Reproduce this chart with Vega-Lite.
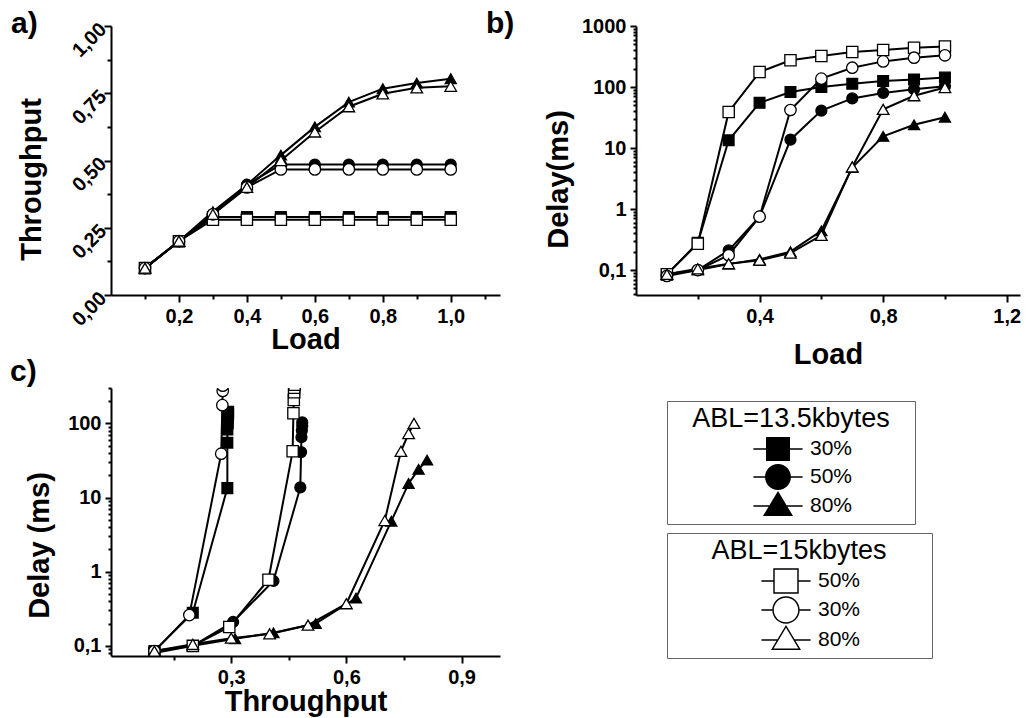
{
  "$schema": "https://vega.github.io/schema/vega-lite/v6.json",
  "background": "white",
  "padding": {"left": 10, "top": 8, "right": 5, "bottom": 5},
  "columns": 2,
  "bounds": "flush",
  "spacing": {"row": 93, "column": 136},
  "datasets": {
    "a": [
      {"series": "13.5k 30%", "load": 0.1, "thr": 0.1}, {"series": "13.5k 30%", "load": 0.2, "thr": 0.2}, {"series": "13.5k 30%", "load": 0.3, "thr": 0.29}, {"series": "13.5k 30%", "load": 0.4, "thr": 0.29}, {"series": "13.5k 30%", "load": 0.5, "thr": 0.29}, {"series": "13.5k 30%", "load": 0.6, "thr": 0.29}, {"series": "13.5k 30%", "load": 0.7, "thr": 0.29}, {"series": "13.5k 30%", "load": 0.8, "thr": 0.29}, {"series": "13.5k 30%", "load": 0.9, "thr": 0.29}, {"series": "13.5k 30%", "load": 1.0, "thr": 0.29},
      {"series": "13.5k 50%", "load": 0.1, "thr": 0.1}, {"series": "13.5k 50%", "load": 0.2, "thr": 0.2}, {"series": "13.5k 50%", "load": 0.3, "thr": 0.3}, {"series": "13.5k 50%", "load": 0.4, "thr": 0.41}, {"series": "13.5k 50%", "load": 0.5, "thr": 0.485}, {"series": "13.5k 50%", "load": 0.6, "thr": 0.485}, {"series": "13.5k 50%", "load": 0.7, "thr": 0.485}, {"series": "13.5k 50%", "load": 0.8, "thr": 0.485}, {"series": "13.5k 50%", "load": 0.9, "thr": 0.485}, {"series": "13.5k 50%", "load": 1.0, "thr": 0.485},
      {"series": "13.5k 80%", "load": 0.1, "thr": 0.1}, {"series": "13.5k 80%", "load": 0.2, "thr": 0.2}, {"series": "13.5k 80%", "load": 0.3, "thr": 0.31}, {"series": "13.5k 80%", "load": 0.4, "thr": 0.41}, {"series": "13.5k 80%", "load": 0.5, "thr": 0.52}, {"series": "13.5k 80%", "load": 0.6, "thr": 0.625}, {"series": "13.5k 80%", "load": 0.7, "thr": 0.717}, {"series": "13.5k 80%", "load": 0.8, "thr": 0.767}, {"series": "13.5k 80%", "load": 0.9, "thr": 0.788}, {"series": "13.5k 80%", "load": 1.0, "thr": 0.804},
      {"series": "15k 50%", "load": 0.1, "thr": 0.1}, {"series": "15k 50%", "load": 0.2, "thr": 0.2}, {"series": "15k 50%", "load": 0.3, "thr": 0.28}, {"series": "15k 50%", "load": 0.4, "thr": 0.28}, {"series": "15k 50%", "load": 0.5, "thr": 0.28}, {"series": "15k 50%", "load": 0.6, "thr": 0.28}, {"series": "15k 50%", "load": 0.7, "thr": 0.28}, {"series": "15k 50%", "load": 0.8, "thr": 0.28}, {"series": "15k 50%", "load": 0.9, "thr": 0.28}, {"series": "15k 50%", "load": 1.0, "thr": 0.28},
      {"series": "15k 30%", "load": 0.1, "thr": 0.1}, {"series": "15k 30%", "load": 0.2, "thr": 0.2}, {"series": "15k 30%", "load": 0.3, "thr": 0.3}, {"series": "15k 30%", "load": 0.4, "thr": 0.4}, {"series": "15k 30%", "load": 0.5, "thr": 0.467}, {"series": "15k 30%", "load": 0.6, "thr": 0.467}, {"series": "15k 30%", "load": 0.7, "thr": 0.467}, {"series": "15k 30%", "load": 0.8, "thr": 0.467}, {"series": "15k 30%", "load": 0.9, "thr": 0.467}, {"series": "15k 30%", "load": 1.0, "thr": 0.467},
      {"series": "15k 80%", "load": 0.1, "thr": 0.1}, {"series": "15k 80%", "load": 0.2, "thr": 0.2}, {"series": "15k 80%", "load": 0.3, "thr": 0.3}, {"series": "15k 80%", "load": 0.4, "thr": 0.4}, {"series": "15k 80%", "load": 0.5, "thr": 0.5}, {"series": "15k 80%", "load": 0.6, "thr": 0.606}, {"series": "15k 80%", "load": 0.7, "thr": 0.7}, {"series": "15k 80%", "load": 0.8, "thr": 0.748}, {"series": "15k 80%", "load": 0.9, "thr": 0.77}, {"series": "15k 80%", "load": 1.0, "thr": 0.776}
    ],
    "b": [
      {"series": "13.5k 30%", "load": 0.1, "delay": 0.085}, {"series": "13.5k 30%", "load": 0.2, "delay": 0.28}, {"series": "13.5k 30%", "load": 0.3, "delay": 13.4}, {"series": "13.5k 30%", "load": 0.4, "delay": 55}, {"series": "13.5k 30%", "load": 0.5, "delay": 83}, {"series": "13.5k 30%", "load": 0.6, "delay": 100}, {"series": "13.5k 30%", "load": 0.7, "delay": 113}, {"series": "13.5k 30%", "load": 0.8, "delay": 126}, {"series": "13.5k 30%", "load": 0.9, "delay": 133}, {"series": "13.5k 30%", "load": 1.0, "delay": 143},
      {"series": "13.5k 50%", "load": 0.1, "delay": 0.085}, {"series": "13.5k 50%", "load": 0.2, "delay": 0.1}, {"series": "13.5k 50%", "load": 0.3, "delay": 0.21}, {"series": "13.5k 50%", "load": 0.4, "delay": 0.75}, {"series": "13.5k 50%", "load": 0.5, "delay": 13.7}, {"series": "13.5k 50%", "load": 0.6, "delay": 41}, {"series": "13.5k 50%", "load": 0.7, "delay": 65}, {"series": "13.5k 50%", "load": 0.8, "delay": 80}, {"series": "13.5k 50%", "load": 0.9, "delay": 92}, {"series": "13.5k 50%", "load": 1.0, "delay": 103},
      {"series": "13.5k 80%", "load": 0.1, "delay": 0.085}, {"series": "13.5k 80%", "load": 0.2, "delay": 0.1}, {"series": "13.5k 80%", "load": 0.3, "delay": 0.125}, {"series": "13.5k 80%", "load": 0.4, "delay": 0.15}, {"series": "13.5k 80%", "load": 0.5, "delay": 0.2}, {"series": "13.5k 80%", "load": 0.6, "delay": 0.44}, {"series": "13.5k 80%", "load": 0.7, "delay": 4.8}, {"series": "13.5k 80%", "load": 0.8, "delay": 15.5}, {"series": "13.5k 80%", "load": 0.9, "delay": 24}, {"series": "13.5k 80%", "load": 1.0, "delay": 32},
      {"series": "15k 50%", "load": 0.1, "delay": 0.085}, {"series": "15k 50%", "load": 0.2, "delay": 0.27}, {"series": "15k 50%", "load": 0.3, "delay": 39}, {"series": "15k 50%", "load": 0.4, "delay": 176}, {"series": "15k 50%", "load": 0.5, "delay": 274}, {"series": "15k 50%", "load": 0.6, "delay": 322}, {"series": "15k 50%", "load": 0.7, "delay": 375}, {"series": "15k 50%", "load": 0.8, "delay": 405}, {"series": "15k 50%", "load": 0.9, "delay": 441}, {"series": "15k 50%", "load": 1.0, "delay": 460},
      {"series": "15k 30%", "load": 0.1, "delay": 0.08}, {"series": "15k 30%", "load": 0.2, "delay": 0.1}, {"series": "15k 30%", "load": 0.3, "delay": 0.175}, {"series": "15k 30%", "load": 0.4, "delay": 0.75}, {"series": "15k 30%", "load": 0.5, "delay": 42}, {"series": "15k 30%", "load": 0.6, "delay": 137}, {"series": "15k 30%", "load": 0.7, "delay": 207}, {"series": "15k 30%", "load": 0.8, "delay": 263}, {"series": "15k 30%", "load": 0.9, "delay": 302}, {"series": "15k 30%", "load": 1.0, "delay": 331},
      {"series": "15k 80%", "load": 0.1, "delay": 0.085}, {"series": "15k 80%", "load": 0.2, "delay": 0.105}, {"series": "15k 80%", "load": 0.3, "delay": 0.127}, {"series": "15k 80%", "load": 0.4, "delay": 0.145}, {"series": "15k 80%", "load": 0.5, "delay": 0.19}, {"series": "15k 80%", "load": 0.6, "delay": 0.37}, {"series": "15k 80%", "load": 0.7, "delay": 4.9}, {"series": "15k 80%", "load": 0.8, "delay": 43}, {"series": "15k 80%", "load": 0.9, "delay": 72}, {"series": "15k 80%", "load": 1.0, "delay": 98}
    ],
    "c": [
      {"series": "13.5k 30%", "load": 0.1, "thr": 0.1, "delay": 0.085}, {"series": "13.5k 30%", "load": 0.2, "thr": 0.2, "delay": 0.28}, {"series": "13.5k 30%", "load": 0.3, "thr": 0.29, "delay": 13.4}, {"series": "13.5k 30%", "load": 0.4, "thr": 0.29, "delay": 55}, {"series": "13.5k 30%", "load": 0.5, "thr": 0.29, "delay": 83}, {"series": "13.5k 30%", "load": 0.6, "thr": 0.291, "delay": 100}, {"series": "13.5k 30%", "load": 0.7, "thr": 0.291, "delay": 113}, {"series": "13.5k 30%", "load": 0.8, "thr": 0.291, "delay": 126}, {"series": "13.5k 30%", "load": 0.9, "thr": 0.292, "delay": 133}, {"series": "13.5k 30%", "load": 1.0, "thr": 0.292, "delay": 143},
      {"series": "13.5k 50%", "load": 0.1, "thr": 0.1, "delay": 0.085}, {"series": "13.5k 50%", "load": 0.2, "thr": 0.2, "delay": 0.1}, {"series": "13.5k 50%", "load": 0.3, "thr": 0.305, "delay": 0.21}, {"series": "13.5k 50%", "load": 0.4, "thr": 0.41, "delay": 0.75}, {"series": "13.5k 50%", "load": 0.5, "thr": 0.48, "delay": 13.7}, {"series": "13.5k 50%", "load": 0.6, "thr": 0.482, "delay": 41}, {"series": "13.5k 50%", "load": 0.7, "thr": 0.483, "delay": 65}, {"series": "13.5k 50%", "load": 0.8, "thr": 0.484, "delay": 80}, {"series": "13.5k 50%", "load": 0.9, "thr": 0.485, "delay": 92}, {"series": "13.5k 50%", "load": 1.0, "thr": 0.485, "delay": 103},
      {"series": "13.5k 80%", "load": 0.1, "thr": 0.1, "delay": 0.085}, {"series": "13.5k 80%", "load": 0.2, "thr": 0.2, "delay": 0.1}, {"series": "13.5k 80%", "load": 0.3, "thr": 0.31, "delay": 0.125}, {"series": "13.5k 80%", "load": 0.4, "thr": 0.41, "delay": 0.15}, {"series": "13.5k 80%", "load": 0.5, "thr": 0.52, "delay": 0.2}, {"series": "13.5k 80%", "load": 0.6, "thr": 0.625, "delay": 0.44}, {"series": "13.5k 80%", "load": 0.7, "thr": 0.717, "delay": 4.8}, {"series": "13.5k 80%", "load": 0.8, "thr": 0.762, "delay": 15.5}, {"series": "13.5k 80%", "load": 0.9, "thr": 0.788, "delay": 24}, {"series": "13.5k 80%", "load": 1.0, "thr": 0.81, "delay": 32},
      {"series": "15k 50%", "load": 0.1, "thr": 0.1, "delay": 0.08}, {"series": "15k 50%", "load": 0.2, "thr": 0.2, "delay": 0.1}, {"series": "15k 50%", "load": 0.3, "thr": 0.295, "delay": 0.18}, {"series": "15k 50%", "load": 0.4, "thr": 0.397, "delay": 0.78}, {"series": "15k 50%", "load": 0.5, "thr": 0.46, "delay": 42}, {"series": "15k 50%", "load": 0.6, "thr": 0.462, "delay": 137}, {"series": "15k 50%", "load": 0.7, "thr": 0.463, "delay": 207}, {"series": "15k 50%", "load": 0.8, "thr": 0.464, "delay": 263}, {"series": "15k 50%", "load": 0.9, "thr": 0.464, "delay": 302}, {"series": "15k 50%", "load": 1.0, "thr": 0.465, "delay": 331},
      {"series": "15k 30%", "load": 0.1, "thr": 0.1, "delay": 0.085}, {"series": "15k 30%", "load": 0.2, "thr": 0.191, "delay": 0.26}, {"series": "15k 30%", "load": 0.3, "thr": 0.274, "delay": 39}, {"series": "15k 30%", "load": 0.4, "thr": 0.277, "delay": 176}, {"series": "15k 30%", "load": 0.5, "thr": 0.278, "delay": 274}, {"series": "15k 30%", "load": 0.6, "thr": 0.278, "delay": 322}, {"series": "15k 30%", "load": 0.7, "thr": 0.278, "delay": 375}, {"series": "15k 30%", "load": 0.8, "thr": 0.278, "delay": 405}, {"series": "15k 30%", "load": 0.9, "thr": 0.278, "delay": 441}, {"series": "15k 30%", "load": 1.0, "thr": 0.278, "delay": 460},
      {"series": "15k 80%", "load": 0.1, "thr": 0.1, "delay": 0.085}, {"series": "15k 80%", "load": 0.2, "thr": 0.2, "delay": 0.105}, {"series": "15k 80%", "load": 0.3, "thr": 0.3, "delay": 0.127}, {"series": "15k 80%", "load": 0.4, "thr": 0.4, "delay": 0.145}, {"series": "15k 80%", "load": 0.5, "thr": 0.5, "delay": 0.19}, {"series": "15k 80%", "load": 0.6, "thr": 0.6, "delay": 0.37}, {"series": "15k 80%", "load": 0.7, "thr": 0.7, "delay": 4.9}, {"series": "15k 80%", "load": 0.8, "thr": 0.742, "delay": 42}, {"series": "15k 80%", "load": 0.9, "thr": 0.762, "delay": 73}, {"series": "15k 80%", "load": 1.0, "thr": 0.776, "delay": 100}
    ]
  },
  "concat": [
    {
      "width": 389, "height": 269,
      "title": {"text": "a)", "anchor": "start", "frame": "group", "orient": "top", "offset": 0, "baseline": "alphabetic", "dx": -100, "dy": 44, "fontSize": 30, "fontWeight": "bold", "font": "Liberation Sans", "color": "black"},
      "data": {"name": "a"},
      "encoding": {
        "x": {"field": "load", "type": "quantitative",
          "scale": {"domain": [0, 1.145], "nice": false, "zero": false},
          "axis": {"title": "Load", "values": [0.1, 0.2, 0.3, 0.4, 0.5, 0.6, 0.7, 0.8, 0.9, 1.0, 1.1],
            "labelExpr": "round(datum.value*10)%2==0 ? replace(format(datum.value,'.1f'),'.',',') : ''",
            "tickSize": {"condition": {"test": "round(datum.value*10)%2==0", "value": 7}, "value": 4},
            "labelPadding": 4, "titlePadding": -1}},
        "y": {"field": "thr", "type": "quantitative",
          "scale": {"domain": [0, 1], "nice": false, "zero": false},
          "axis": {"title": "Throughput", "values": [0, 0.125, 0.25, 0.375, 0.5, 0.625, 0.75, 0.875, 1.0],
            "labelExpr": "round(datum.value*8)%2==0 ? replace(format(datum.value,'.2f'),'.',',') : ''",
            "tickSize": {"condition": {"test": "round(datum.value*8)%2==0", "value": 7}, "value": 4},
            "labelAngle": -45, "labelAlign": "right", "labelBaseline": "middle", "labelPadding": 1,
            "titleX": -65, "titleY": 153, "titleAngle": -90, "titleAlign": "center", "titleBaseline": "bottom"}}
      },
      "layer": [
        {"mark": {"type": "line", "color": "black", "strokeWidth": 2}, "encoding": {"detail": {"field": "series", "type": "nominal"}}},
        {"mark": {"type": "point", "filled": true, "stroke": "black", "strokeWidth": 1.3, "opacity": 1},
          "encoding": {
            "shape": {"field": "series", "type": "nominal", "legend": null, "scale": {"domain": ["13.5k 30%", "13.5k 50%", "13.5k 80%", "15k 50%", "15k 30%", "15k 80%"], "range": ["square", "circle", "triangle-up", "square", "circle", "triangle-up"]}},
            "fill": {"field": "series", "type": "nominal", "legend": null, "scale": {"domain": ["13.5k 30%", "13.5k 50%", "13.5k 80%", "15k 50%", "15k 30%", "15k 80%"], "range": ["black", "black", "black", "white", "white", "white"]}},
            "size": {"field": "series", "type": "nominal", "legend": null, "scale": {"domain": ["13.5k 30%", "13.5k 50%", "13.5k 80%", "15k 50%", "15k 30%", "15k 80%"], "range": [115, 135, 210, 115, 135, 210]}}
          }}
      ]
    },
    {
      "width": 384, "height": 269,
      "title": {"text": "b)", "anchor": "start", "frame": "group", "orient": "top", "offset": 0, "baseline": "alphabetic", "dx": -150, "dy": 47, "fontSize": 30, "fontWeight": "bold", "font": "Liberation Sans", "color": "black"},
      "data": {"name": "b"},
      "encoding": {
        "x": {"field": "load", "type": "quantitative",
          "scale": {"domain": [0, 1.243], "nice": false, "zero": false},
          "axis": {"title": "Load", "values": [0.2, 0.4, 0.6, 0.8, 1.0, 1.2],
            "labelExpr": "round(datum.value*10)%4==0 ? replace(format(datum.value,'.1f'),'.',',') : ''",
            "tickSize": {"condition": {"test": "round(datum.value*10)%4==0", "value": 7}, "value": 4},
            "labelPadding": 4, "titlePadding": 14}},
        "y": {"field": "delay", "type": "quantitative",
          "scale": {"type": "log", "domain": [0.039, 1000], "nice": false, "zero": false},
          "axis": {"title": "Delay(ms)",
            "values": [0.04, 0.05, 0.06, 0.07, 0.08, 0.09, 0.1, 0.2, 0.3, 0.4, 0.5, 0.6, 0.7, 0.8, 0.9, 1, 2, 3, 4, 5, 6, 7, 8, 9, 10, 20, 30, 40, 50, 60, 70, 80, 90, 100, 200, 300, 400, 500, 600, 700, 800, 900, 1000],
            "labelExpr": "datum.value==0.1 ? '0,1' : (datum.value==1 || datum.value==10 || datum.value==100 || datum.value==1000) ? format(datum.value,'d') : ''",
            "tickSize": {"condition": {"test": "datum.value==0.1 || datum.value==1 || datum.value==10 || datum.value==100 || datum.value==1000", "value": 6}, "value": 3},
            "labelPadding": 4,
            "titleX": -63, "titleY": 153, "titleAngle": -90, "titleAlign": "center", "titleBaseline": "bottom"}}
      },
      "layer": [
        {"mark": {"type": "line", "color": "black", "strokeWidth": 2}, "encoding": {"detail": {"field": "series", "type": "nominal"}}},
        {"mark": {"type": "point", "filled": true, "stroke": "black", "strokeWidth": 1.3, "opacity": 1},
          "encoding": {
            "shape": {"field": "series", "type": "nominal", "legend": null, "scale": {"domain": ["13.5k 30%", "13.5k 50%", "13.5k 80%", "15k 50%", "15k 30%", "15k 80%"], "range": ["square", "circle", "triangle-up", "square", "circle", "triangle-up"]}},
            "fill": {"field": "series", "type": "nominal", "legend": null, "scale": {"domain": ["13.5k 30%", "13.5k 50%", "13.5k 80%", "15k 50%", "15k 30%", "15k 80%"], "range": ["black", "black", "black", "white", "white", "white"]}},
            "size": {"field": "series", "type": "nominal", "legend": null, "scale": {"domain": ["13.5k 30%", "13.5k 50%", "13.5k 80%", "15k 50%", "15k 30%", "15k 80%"], "range": [115, 135, 210, 115, 135, 210]}}
          }}
      ]
    },
    {
      "width": 389, "height": 268,
      "title": {"text": "c)", "anchor": "start", "frame": "group", "orient": "top", "offset": 0, "baseline": "alphabetic", "dx": -101, "dy": 33, "fontSize": 30, "fontWeight": "bold", "font": "Liberation Sans", "color": "black"},
      "layer": [
        {"data": {"name": "c"},
          "mark": {"type": "line", "color": "black", "strokeWidth": 2, "clip": true},
          "encoding": {
            "x": {"field": "thr", "type": "quantitative",
              "scale": {"domain": [-0.013, 1.0], "nice": false, "zero": false},
              "axis": {"title": "Throughput", "values": [0.15, 0.3, 0.45, 0.6, 0.75, 0.9],
                "labelExpr": "round(datum.value*100)%30==0 ? replace(format(datum.value,'.1f'),'.',',') : ''",
                "tickSize": {"condition": {"test": "round(datum.value*100)%30==0", "value": 7}, "value": 4},
                "labelPadding": 4, "titlePadding": 0}},
            "y": {"field": "delay", "type": "quantitative",
              "scale": {"type": "log", "domain": [0.073, 300], "nice": false, "zero": false},
              "axis": {"title": "Delay (ms)",
                "values": [0.08, 0.09, 0.1, 0.2, 0.3, 0.4, 0.5, 0.6, 0.7, 0.8, 0.9, 1, 2, 3, 4, 5, 6, 7, 8, 9, 10, 20, 30, 40, 50, 60, 70, 80, 90, 100, 200, 300],
                "labelExpr": "datum.value==0.1 ? '0,1' : (datum.value==1 || datum.value==10 || datum.value==100) ? format(datum.value,'d') : ''",
                "tickSize": {"condition": {"test": "datum.value==0.1 || datum.value==1 || datum.value==10 || datum.value==100", "value": 6}, "value": 3},
                "labelPadding": 4,
                "titleX": -57, "titleY": 157, "titleAngle": -90, "titleAlign": "center", "titleBaseline": "bottom"}},
            "detail": {"field": "series", "type": "nominal"},
            "order": {"field": "load", "type": "quantitative"}
          }},
        {"data": {"name": "c"},
          "mark": {"type": "point", "filled": true, "stroke": "black", "strokeWidth": 1.3, "opacity": 1, "clip": true},
          "encoding": {
            "x": {"field": "thr", "type": "quantitative"},
            "y": {"field": "delay", "type": "quantitative"},
            "shape": {"field": "series", "type": "nominal", "legend": null, "scale": {"domain": ["13.5k 30%", "13.5k 50%", "13.5k 80%", "15k 50%", "15k 30%", "15k 80%"], "range": ["square", "circle", "triangle-up", "square", "circle", "triangle-up"]}},
            "fill": {"field": "series", "type": "nominal", "legend": null, "scale": {"domain": ["13.5k 30%", "13.5k 50%", "13.5k 80%", "15k 50%", "15k 30%", "15k 80%"], "range": ["black", "black", "black", "white", "white", "white"]}},
            "size": {"field": "series", "type": "nominal", "legend": null, "scale": {"domain": ["13.5k 30%", "13.5k 50%", "13.5k 80%", "15k 50%", "15k 30%", "15k 80%"], "range": [115, 135, 210, 115, 135, 210]}}
          }},
        {"data": {"values": [{"pct": "30%"}, {"pct": "50%"}, {"pct": "80%"}]},
          "mark": {"type": "point", "filled": true, "fill": "black", "size": 576, "opacity": 0},
          "encoding": {
            "shape": {"field": "pct", "type": "nominal",
              "scale": {"domain": ["30%", "50%", "80%"], "range": [
                "M-2.05,-0.06H-1V0.06H-2.05Z M1,-0.06H2.05V0.06H1Z M-1,-1H1V1H-1Z",
                "M-2.05,-0.06H-1V0.06H-2.05Z M1,-0.06H2.05V0.06H1Z M-1.08,0A1.08,1.08,0,1,1,1.08,0A1.08,1.08,0,1,1,-1.08,0Z",
                "M-2.05,-0.06H-0.7V0.06H-2.05Z M0.7,-0.06H2.05V0.06H0.7Z M0,-1.25L1.25,0.83L-1.25,0.83Z"]},
              "legend": {"title": "\u2800ABL=13.5kbytes\u2800", "orient": "none", "legendX": 556, "legendY": 13,
                "padding": 5, "strokeColor": "#666666", "fillColor": "white",
                "titleFont": "Liberation Sans", "titleFontWeight": "normal", "titleFontSize": 27, "titleColor": "black", "titleAnchor": "middle", "titlePadding": 3, "titleLimit": 400,
                "labelFont": "Liberation Sans", "labelFontWeight": "normal", "labelFontSize": 21, "labelColor": "black",
                "symbolSize": 576, "symbolOffset": 36, "labelOffset": 19,
                "symbolFillColor": "black", "symbolOpacity": 1, "rowPadding": -8}}
          }},
        {"data": {"values": [{"pct": "50%"}, {"pct": "30%"}, {"pct": "80%"}]},
          "mark": {"type": "point", "filled": true, "fill": "black", "size": 576, "opacity": 0},
          "encoding": {
            "shape": {"field": "pct", "type": "nominal",
              "scale": {"domain": ["50%", "30%", "80%"], "range": [
                "M-2.05,-0.06H-1V0.06H-2.05Z M1,-0.06H2.05V0.06H1Z M-1.06,-1.06H1.06V1.06H-1.06Z M-0.94,-0.94V0.94H0.94V-0.94Z",
                "M-2.05,-0.06H-1.1V0.06H-2.05Z M1.1,-0.06H2.05V0.06H1.1Z M-1.14,0A1.14,1.14,0,1,1,1.14,0A1.14,1.14,0,1,1,-1.14,0Z M-1.02,0A1.02,1.02,0,1,0,1.02,0A1.02,1.02,0,1,0,-1.02,0Z",
                "M-2.05,-0.06H-0.72V0.06H-2.05Z M0.72,-0.06H2.05V0.06H0.72Z M0,-1.25L1.25,0.83L-1.25,0.83Z M0,-1.017L-1.0375,0.71L1.0375,0.71Z"]},
              "legend": {"title": "\u2800\u2800ABL=15kbytes\u2800\u2800", "orient": "none", "legendX": 556, "legendY": 145,
                "padding": 5, "strokeColor": "#666666", "fillColor": "white",
                "titleFont": "Liberation Sans", "titleFontWeight": "normal", "titleFontSize": 27, "titleColor": "black", "titleAnchor": "middle", "titlePadding": 3, "titleLimit": 400,
                "labelFont": "Liberation Sans", "labelFontWeight": "normal", "labelFontSize": 21, "labelColor": "black",
                "symbolSize": 576, "symbolOffset": 36, "labelOffset": 19,
                "symbolFillColor": "black", "symbolOpacity": 1, "rowPadding": -8}}
          }}
      ],
      "resolve": {"scale": {"shape": "independent", "fill": "independent", "size": "independent"}}
    }
  ],
  "config": {
    "view": {"stroke": null},
    "font": "Liberation Sans",
    "axis": {"grid": false, "domainColor": "black", "domainWidth": 2, "tickColor": "black", "tickWidth": 2,
      "labelFont": "Liberation Sans", "labelFontSize": 20, "labelFontWeight": "bold", "labelColor": "black",
      "titleFont": "Liberation Sans", "titleFontSize": 29, "titleFontWeight": "bold", "titleColor": "black",
      "labelOverlap": false, "labelFlush": false, "labelBound": false}
  }
}
